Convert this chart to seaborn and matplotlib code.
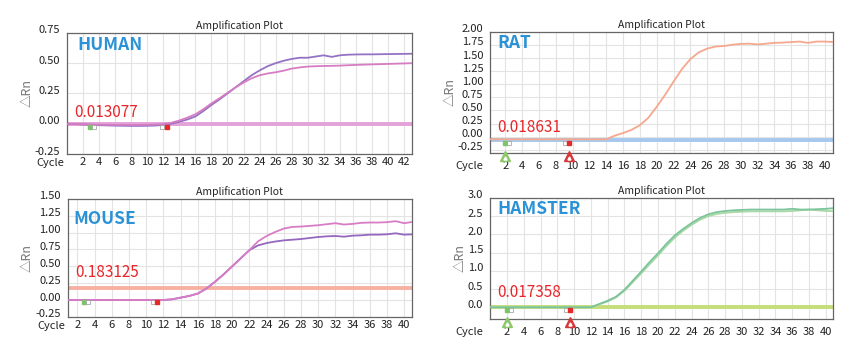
import numpy as np
import matplotlib
matplotlib.use("Agg")
import matplotlib.pyplot as plt
from matplotlib.transforms import ScaledTranslation
import seaborn as sns

# ================================
# DATA
# ================================
human_cycles = list(range(0, 44))
human_purple = [0.0, -0.003, -0.006, -0.009, -0.012, -0.014, -0.016, -0.017, -0.018, -0.018,
                -0.017, -0.015, -0.01, 0.0, 0.016, 0.035, 0.06, 0.105, 0.155, 0.2,
                0.25, 0.3, 0.35, 0.40, 0.44, 0.475, 0.50, 0.52, 0.535, 0.545,
                0.545, 0.555, 0.565, 0.552, 0.565, 0.57, 0.572, 0.573, 0.573, 0.574,
                0.575, 0.576, 0.577, 0.578]
human_pink = [0.0, -0.002, -0.004, -0.006, -0.008, -0.009, -0.01, -0.01, -0.01, -0.01,
              -0.009, -0.007, -0.003, 0.008, 0.027, 0.05, 0.078, 0.12, 0.168, 0.21,
              0.255, 0.3, 0.34, 0.375, 0.40, 0.415, 0.425, 0.438, 0.455, 0.465,
              0.472, 0.475, 0.477, 0.478, 0.48, 0.483, 0.486, 0.488, 0.49, 0.492,
              0.494, 0.496, 0.498, 0.5]

rat_cycles = list(range(0, 42))
rat_orange = [-0.05] * 15 + [0.02, 0.07, 0.13, 0.22, 0.36, 0.57, 0.80, 1.05, 1.29, 1.48,
                             1.61, 1.68, 1.72, 1.73, 1.755, 1.77, 1.775, 1.76, 1.775, 1.79,
                             1.795, 1.805, 1.815, 1.79, 1.815, 1.815, 1.805]

mouse_cycles = list(range(1, 42))
mouse_pink = [0.0] * 12 + [0.01, 0.035, 0.06, 0.095, 0.17, 0.27, 0.38, 0.5, 0.62, 0.74,
                           0.87, 0.95, 1.01, 1.06, 1.085, 1.09, 1.1, 1.11, 1.125, 1.14,
                           1.12, 1.13, 1.145, 1.15, 1.15, 1.155, 1.17, 1.14, 1.16]
mouse_purple = [0.0] * 12 + [0.01, 0.035, 0.06, 0.095, 0.17, 0.27, 0.38, 0.5, 0.62, 0.74,
                             0.81, 0.845, 0.868, 0.885, 0.895, 0.905, 0.92, 0.935, 0.945, 0.95,
                             0.94, 0.955, 0.96, 0.97, 0.97, 0.975, 0.99, 0.97, 0.975]

hamster_cycles = list(range(0, 42))
hamster_dark = [0.0] * 13 + [0.09, 0.18, 0.29, 0.48, 0.73, 0.98, 1.24, 1.48, 1.74, 1.97,
                             2.15, 2.31, 2.45, 2.55, 2.61, 2.64, 2.66, 2.67, 2.68, 2.68,
                             2.68, 2.68, 2.68, 2.7, 2.68, 2.68, 2.69, 2.7, 2.72]
hamster_light = [0.0] * 13 + [0.08, 0.16, 0.27, 0.45, 0.69, 0.93, 1.18, 1.42, 1.68, 1.91,
                              2.1, 2.26, 2.4, 2.5, 2.56, 2.59, 2.61, 2.62, 2.63, 2.63,
                              2.63, 2.63, 2.63, 2.64, 2.66, 2.68, 2.66, 2.64, 2.64]

species = ['HUMAN', 'RAT', 'MOUSE', 'HAMSTER']
threshold_labels = ['0.013077', '0.018631', '0.183125', '0.017358']
threshold_levels = [0.0, -0.065, 0.183, 0.0]

# baseline start / end markers (cycle) and triangles below axes
start_marks = [2.9, 2.0, 2.8, 2.0]
end_marks = [12.4, 9.6, 11.3, 9.5]

sns.set_style("whitegrid")
plt.rcParams['font.family'] = ['Noto Sans CJK SC', 'DejaVu Sans']

fig = plt.figure(figsize=(8.6, 3.54), dpi=100)
positions = [
    [0.078, 0.565, 0.401, 0.342],
    [0.570, 0.568, 0.399, 0.342],
    [0.079, 0.105, 0.400, 0.333],
    [0.570, 0.099, 0.399, 0.342],
]
name_pos = [(0.029, 0.90), (0.02, 0.91), (0.017, 0.83), (0.02, 0.91)]
thr_pos = [(0.02, 0.34), (0.02, 0.21), (0.02, 0.38), (0.02, 0.215)]


def draw_panel(ax, name, curves, thr_label, thr_level, thr_color, xlim, ylim, yticks, yfmt,
               m_start, m_end, mark_y, triangles, npos, tpos):
    ax.axhline(thr_level, color=thr_color, lw=2.8, zorder=2)
    for cyc, vals, col in curves:
        sns.lineplot(x=cyc, y=vals, color=col, lw=1.3, ax=ax, zorder=3)
    ax.set_xlim(*xlim)
    ax.set_ylim(*ylim)
    ax.set_xticks(range(2, int(xlim[1]) + 1, 2))
    ax.set_yticks(yticks)
    ax.set_yticklabels([yfmt.format(v) for v in yticks])
    ax.grid(True, color='#e3e3e3', lw=0.8)
    for sp in ax.spines.values():
        sp.set_color('#666666')
        sp.set_linewidth(0.9)
    ax.tick_params(length=0, labelsize=8, colors='#222222')
    ax.tick_params(axis='y', pad=5)
    ax.tick_params(axis='x', pad=6 if triangles else 2)
    shift = ScaledTranslation(0, 2.5 / 72, fig.dpi_scale_trans)
    for lab in ax.get_yticklabels():
        lab.set_transform(lab.get_transform() + shift)
    ax.set_title('Amplification Plot', fontsize=7.5, pad=3, color='#222222')
    ax.set_ylabel('△Rn', fontsize=9, color='#777777', labelpad=1)
    ax.set_xlabel('')
    ax.text(npos[0], npos[1], name, transform=ax.transAxes, fontsize=12.5, fontweight='bold',
            color='#2b92d6', va='center')
    ax.text(tpos[0], tpos[1], thr_label, transform=ax.transAxes,
            fontsize=11, color='#e8262a', va='center')
    # baseline markers
    dx = (xlim[1] - xlim[0]) * 0.012
    ax.plot([m_start], [mark_y], 's', color='#7bc46a', ms=3.5, zorder=4)
    ax.plot([m_start + dx], [mark_y], 's', mfc='white', mec='#999999', mew=0.5, ms=3.5, zorder=4)
    ax.plot([m_end - dx], [mark_y], 's', mfc='white', mec='#999999', mew=0.5, ms=3.5, zorder=4)
    ax.plot([m_end], [mark_y], 's', color='#e52a2a', ms=3.5, zorder=4)
    if triangles:
        down = ScaledTranslation(0, -2.5 / 72, fig.dpi_scale_trans)
        tr = ax.get_xaxis_transform() + down
        ax.plot([m_start], [0], '^', color='#8cc86a', ms=6.5, transform=tr, clip_on=False, zorder=5)
        ax.plot([m_end], [0], '^', color='#d9383a', ms=6.5, transform=tr, clip_on=False, zorder=5)
        low = ax.get_xaxis_transform() + ScaledTranslation(0, -3.5 / 72, fig.dpi_scale_trans)
        ax.plot([m_start], [0], '^', color='white', ms=2.2, transform=low, clip_on=False, zorder=6)
        ax.plot([m_end], [0], '^', color='white', ms=2.2, transform=low, clip_on=False, zorder=6)
    ax.annotate('Cycle', xy=(0, 0), xycoords='axes fraction',
                xytext=(-5 if triangles else -2, -6 if triangles else -3), textcoords='offset points',
                ha='right', va='top', fontsize=8, color='#222222')


axes = [fig.add_axes(p) for p in positions]

draw_panel(axes[0], species[0],
           [(human_cycles, human_purple, '#9472c6'), (human_cycles, human_pink, '#d67cc3')],
           threshold_labels[0], threshold_levels[0], '#e3a2d8',
           (0, 43), (-0.25, 0.75), [-0.25, 0, 0.25, 0.5, 0.75], '{:.2f}',
           start_marks[0], end_marks[0], -0.03, False, name_pos[0], thr_pos[0])

draw_panel(axes[1], species[1],
           [(rat_cycles, rat_orange, '#f6a88e')],
           threshold_labels[1], threshold_levels[1], '#a6c8ee',
           (0.2, 41), (-0.31, 2.0), [-0.25, 0, 0.25, 0.5, 0.75, 1.0, 1.25, 1.5, 1.75, 2.0], '{:.2f}',
           start_marks[1], end_marks[1], -0.13, True, name_pos[1], thr_pos[1])

draw_panel(axes[2], species[2],
           [(mouse_cycles, mouse_purple, '#9467c0'), (mouse_cycles, mouse_pink, '#d97cc6')],
           threshold_labels[2], threshold_levels[2], '#f6b1a2',
           (0.9, 40.9), (-0.25, 1.5), [-0.25, 0, 0.25, 0.5, 0.75, 1.0, 1.25, 1.5], '{:.2f}',
           start_marks[2], end_marks[2], -0.03, False, name_pos[2], thr_pos[2])

draw_panel(axes[3], species[3],
           [(hamster_cycles, hamster_light, '#a8d8a4'), (hamster_cycles, hamster_dark, '#7cc49b')],
           threshold_labels[3], threshold_levels[3], '#c6de78',
           (0, 40.9), (-0.32, 3.0), [0, 0.5, 1.0, 1.5, 2.0, 2.5, 3.0], '{:.1f}',
           start_marks[3], end_marks[3], -0.08, True, name_pos[3], thr_pos[3])

fig.savefig('out.png', dpi=100)
